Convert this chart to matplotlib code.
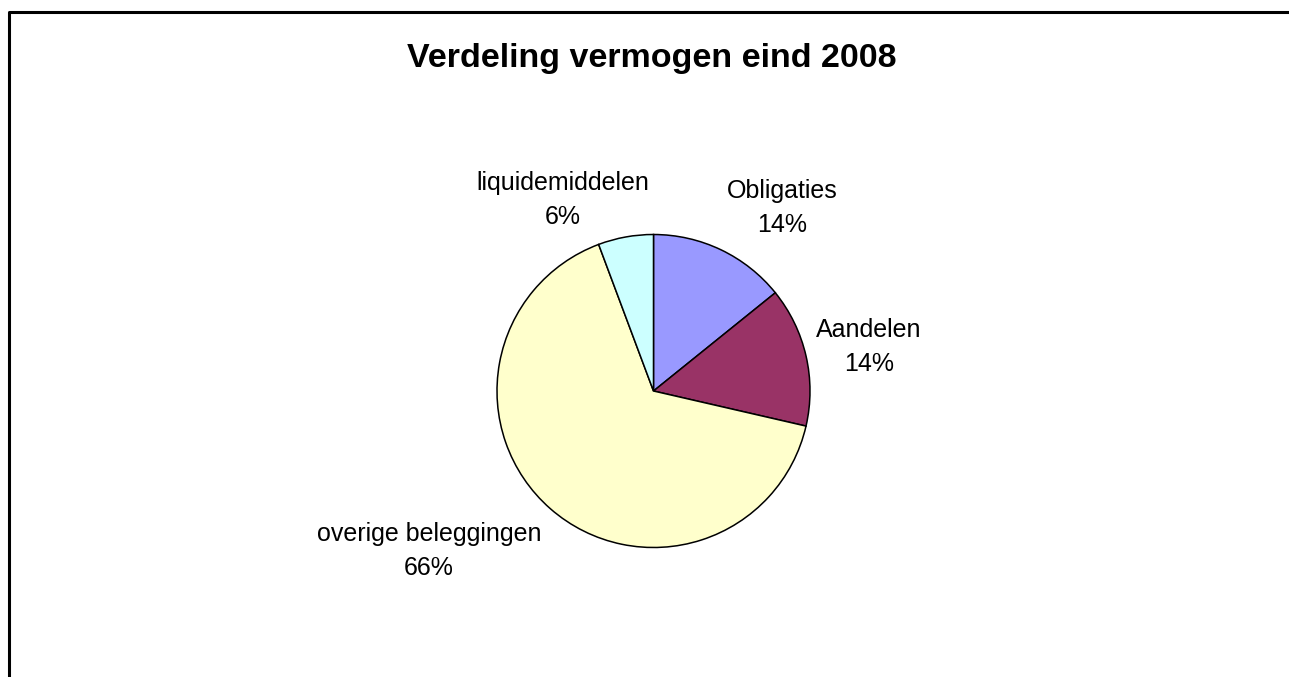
#!/usr/bin/env python3
"""Pie chart: Verdeling vermogen eind 2008."""

import matplotlib
matplotlib.use("Agg")
import matplotlib.pyplot as plt
from matplotlib.lines import Line2D

categories = ["Obligaties", "Aandelen", "overige beleggingen", "liquidemiddelen"]
values = [14.2, 14.4, 65.7, 5.7]
colors = ["#9999FF", "#993366", "#FFFFCC", "#CCFFFF"]

# label centres in pixels (x from left, y from top)
label_pos = [(782, 208), (869, 347), (429, 551), (563, 200)]

W, H = 1289, 677
CX, CY, R = 653.5, 391, 156.5

plt.rcParams["font.family"] = ["Liberation Sans", "DejaVu Sans"]

fig = plt.figure(figsize=(W / 100, H / 100), dpi=100)
ax = fig.add_axes([0, 0, 1, 1])
ax.pie(values, colors=colors, startangle=90, counterclock=False,
       wedgeprops=dict(edgecolor="black", linewidth=1.1))
ax.set_xlim(-CX / R, (W - CX) / R)
ax.set_ylim((CY - H) / R, CY / R)
ax.set_aspect("equal")
ax.axis("off")

total = sum(values)
for name, v, (px, py) in zip(categories, values, label_pos):
    fig.text(px / W, 1 - py / H, f"{name}\n{round(v / total * 100)}%",
             ha="center", va="center", fontsize=18, linespacing=1.5,
             multialignment="center")

fig.text(652 / W, 1 - 58 / H, "Verdeling vermogen eind 2008",
         ha="center", va="center", fontsize=24.5, fontweight="bold")

# chart area border (top and left visible)
fig.add_artist(Line2D([8.5 / W, 8.5 / W, 1], [0, 1 - 11.5 / H, 1 - 11.5 / H],
                      transform=fig.transFigure, color="black", linewidth=2.2))

fig.savefig("out.png", dpi=100, facecolor="white")
